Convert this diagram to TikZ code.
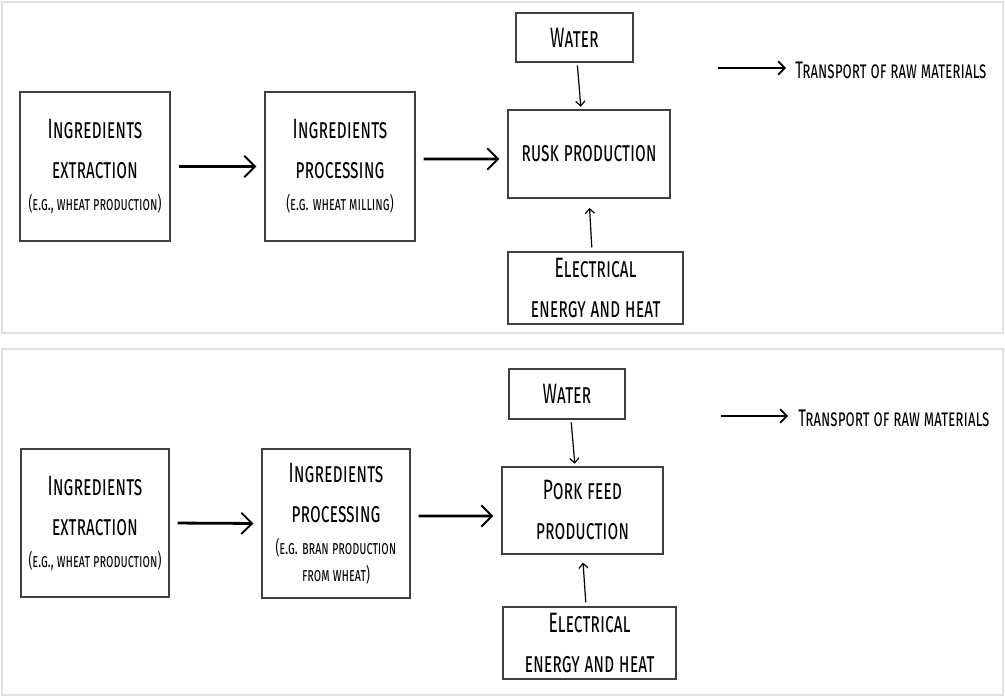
\documentclass[tikz,border=0pt]{standalone}
\usepackage{fontspec}
\setmainfont{Fira Sans}[FakeStretch=0.62]
\usetikzlibrary{arrows.meta}

\newcommand{\bigtxt}{\fontsize{21}{30}\selectfont\scshape}
\newcommand{\smalltxt}{\fontsize{14.5}{21}\selectfont\scshape}
\newcommand{\legtxt}{\fontsize{18}{24}\selectfont\scshape}

\tikzset{
  box/.style={draw=black!75, line width=1pt, align=center, inner sep=0pt, font=\bigtxt},
  flow/.style={line width=2.1pt, shorten <=6pt, shorten >=6pt,
    -{Straight Barb[length=8pt,width=16pt,line width=1.4pt]}},
  feed/.style={line width=0.9pt, -{Straight Barb[length=3.5pt,width=7pt]}},
  legend/.style={line width=1.3pt, -{Straight Barb[length=5pt,width=10pt]}},
  panel/.style={draw=black!12, line width=1.2pt}
}

\begin{document}
\begin{tikzpicture}[x=0.75pt, y=-0.75pt]
  \useasboundingbox (0,0) rectangle (1005,698);

  % rusk
  \draw[panel] (2,2) rectangle (1003,333);

  \node[box, minimum width=112.5pt, minimum height=111.75pt] (ext1) at (95,166.5)
    {Ingredients\\extraction\\[-6pt]{\smalltxt (e.g., wheat production)}};
  \node[box, minimum width=112.5pt, minimum height=111.75pt] (proc1) at (340,166.5)
    {Ingredients\\processing\\[-6pt]{\smalltxt (e.g. wheat milling)}};
  \node[box, minimum width=87.75pt, minimum height=36.75pt] (water1) at (574.5,37.5) {Water};
  \node[box, minimum width=121.5pt, minimum height=66pt] (rusk1) at (589,154) {rusk production};
  \node[box, minimum width=131.25pt, minimum height=54pt] (elec1) at (595.5,288)
    {Electrical\\energy and heat};

  \draw[flow] (ext1.east) -- (proc1.west);
  \draw[flow] ([yshift=5.6pt]proc1.east) -- ([yshift=-3.75pt]rusk1.west);
  \draw[feed, shorten <=2pt, shorten >=2pt] ([xshift=2pt]water1.south) -- ([xshift=-6pt]rusk1.north);
  \draw[feed, shorten <=3pt, shorten >=7pt] ([xshift=-2.6pt]elec1.north) -- (rusk1.south);

  \coordinate (leg1a) at (718,68);
  \coordinate (leg1b) at (786,68);
  \draw[legend] (leg1a) -- (leg1b);
  \node[anchor=west, inner sep=0pt, font=\legtxt] (leg1) at (795,70) {Transport of raw materials};

  % pork feed
  \draw[panel] (2,349) rectangle (1003,695);

  \node[box, minimum width=111pt, minimum height=111pt] (ext2) at (95,523)
    {Ingredients\\extraction\\[-6pt]{\smalltxt (e.g., wheat production)}};
  \node[box, minimum width=111pt, minimum height=111.75pt] (proc2) at (336,523.5)
    {Ingredients\\processing\\[-6pt]{\smalltxt (e.g. bran production}\\[-10pt]{\smalltxt from wheat)}};
  \node[box, minimum width=87pt, minimum height=37.5pt] (water2) at (567,394) {Water};
  \node[box, minimum width=120.75pt, minimum height=65.25pt] (pork2) at (582.5,510.5)
    {Pork feed\\production};
  \node[box, minimum width=129.75pt, minimum height=54pt] (elec2) at (589.5,643)
    {Electrical\\energy and heat};

  \draw[flow] (ext2.east) -- (proc2.west);
  \draw[flow] ([yshift=5.6pt]proc2.east) -- ([yshift=-4.1pt]pork2.west);
  \draw[feed, shorten <=2pt, shorten >=2pt] ([xshift=3pt]water2.south) -- ([xshift=-5.6pt]pork2.north);
  \draw[feed, shorten <=3pt, shorten >=6pt] ([xshift=-2.6pt]elec2.north) -- (pork2.south);

  \coordinate (leg2a) at (721,416);
  \coordinate (leg2b) at (788,416);
  \draw[legend] (leg2a) -- (leg2b);
  \node[anchor=west, inner sep=0pt, font=\legtxt] (leg2) at (798,418) {Transport of raw materials};
\end{tikzpicture}
\end{document}
